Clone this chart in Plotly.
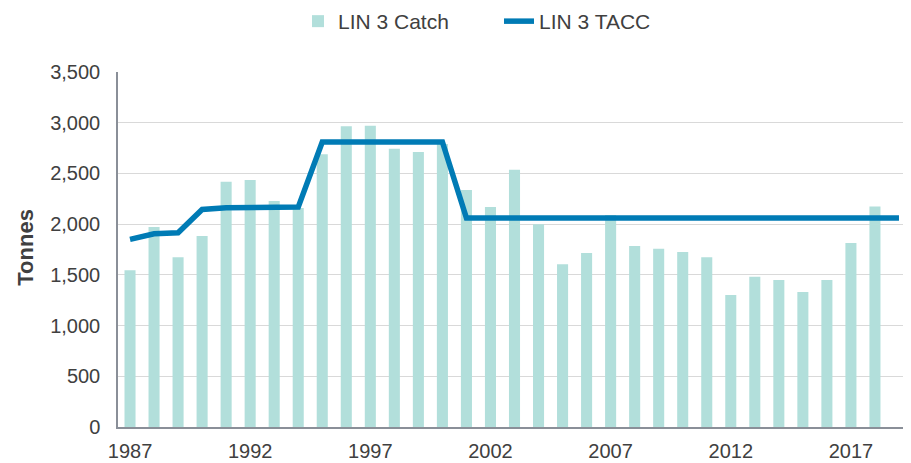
import plotly.graph_objects as go

years = list(range(1987, 2019))
catch = [1545, 1972, 1673, 1883, 2419, 2435, 2228, 2160, 2688, 2964, 2971, 2744,
         2711, 2790, 2336, 2169, 2537, 1998, 1604, 1715, 2090, 1784, 1758, 1725,
         1673, 1301, 1482, 1449, 1331, 1449, 1814, 2175]

tacc_years = list(range(1987, 2020))
tacc = [1850, 1905, 1915, 2145, 2162, 2165, 2168, 2168, 2810, 2810, 2810, 2810,
        2810, 2810] + [2060] * 19

tick_years = [1987, 1992, 1997, 2002, 2007, 2012, 2017]
y_ticks = [0, 500, 1000, 1500, 2000, 2500, 3000, 3500]

FONT = "Liberation Sans, Arial, sans-serif"
TXT = "#404040"

W, H = 903, 455
L, T, B = 110, 64, 36
PH = H - T - B
PW = W - L

fig = go.Figure()
fig.add_trace(go.Bar(
    x=years, y=catch, name="LIN 3 Catch",
    marker=dict(color="#b2dfdb", line=dict(width=0)),
    width=0.46,
))
fig.add_trace(go.Scatter(
    x=tacc_years, y=tacc, name="LIN 3 TACC", mode="lines",
    line=dict(color="#007bb5", width=5.5),
))

fig.add_annotation(
    text="<b>Tonnes</b>", xref="paper", yref="paper",
    x=(18 - L) / PW, y=0.505, xanchor="center", yanchor="middle",
    textangle=-90, showarrow=False,
    font=dict(family=FONT, size=22, color=TXT),
)

fig.update_layout(
    width=W, height=H,
    margin=dict(l=L, r=0, t=T, b=B, autoexpand=False),
    paper_bgcolor="white", plot_bgcolor="white",
    font=dict(family=FONT, size=20, color=TXT),
    showlegend=True,
    legend=dict(
        orientation="h", xref="container", x=290 / W, xanchor="left",
        yref="paper", y=1 + (T + 7) / PH, yanchor="top",
        entrywidth=156, entrywidthmode="pixels",
        font=dict(family=FONT, size=21, color=TXT),
        bgcolor="rgba(0,0,0,0)",
    ),
    xaxis=dict(
        range=[1986.5, 2019.5], tickvals=tick_years,
        ticktext=[str(t) for t in tick_years],
        showgrid=False, showline=True, linecolor="#8a8f98", linewidth=1.5,
        ticks="", ticklabelstandoff=5, zeroline=False, automargin=False,
        tickfont=dict(family=FONT, size=20, color=TXT),
    ),
    yaxis=dict(
        range=[0, 3500], tickvals=y_ticks, tickformat=",",
        showgrid=True, gridcolor="#d9d9d9", gridwidth=1.3,
        showline=True, linecolor="#8a8f98", linewidth=1.5,
        ticks="", ticklabelstandoff=12, zeroline=False, automargin=False,
        tickfont=dict(family=FONT, size=20, color=TXT),
    ),
)

fig.write_html("out.html")
